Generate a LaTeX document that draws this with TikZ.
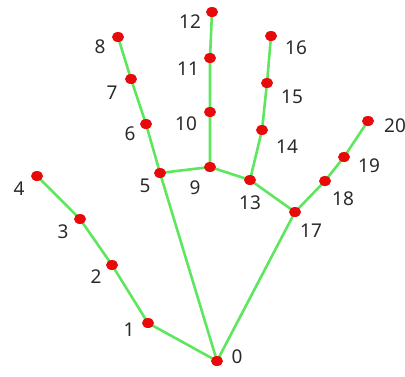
\documentclass[tikz,border=0pt]{standalone}
\usepackage{fontspec}
\setmainfont{Noto Sans}
\usetikzlibrary{shapes.geometric}
\definecolor{bone}{HTML}{5EE65E}
\definecolor{joint}{HTML}{E80A0A}
\definecolor{lbl}{HTML}{2A2A2A}
\tikzset{
  kp/.style={ellipse,fill=joint,inner sep=0pt,minimum width=12pt,minimum height=10pt},
  num/.style={text=lbl,font=\fontsize{19}{19}\selectfont,inner sep=0pt},
  bonel/.style={draw=bone,line width=2.6pt}
}
\begin{document}
\begin{tikzpicture}[x=1pt,y=-1pt]
\useasboundingbox (0,0) rectangle (405,376);
\foreach \n/\x/\y in {0/217/361,1/148/323,2/112/265,3/80/219,4/37/176,
  5/160/173,6/146/124,7/131/79,8/118/37,
  9/210/167,10/210/112,11/210/58,12/212/12,
  13/250/180,14/262/130,15/267/83,16/271/36,
  17/295/212,18/325/181,19/344/157,20/368/121}
  \coordinate (p\n) at (\x,\y);
\draw[bonel] (p0)--(p1)--(p2)--(p3)--(p4);
\draw[bonel] (p0)--(p5)--(p6)--(p7)--(p8);
\draw[bonel] (p5)--(p9)--(p10)--(p11)--(p12);
\draw[bonel] (p9)--(p13)--(p14)--(p15)--(p16);
\draw[bonel] (p13)--(p17);
\draw[bonel] (p0)--(p17)--(p18)--(p19)--(p20);
\foreach \n in {0,...,20} \node[kp] (k\n) at (p\n) {};
\foreach \n/\x/\y in {0/237/357,1/129/330,2/96/277,3/63/232,4/19/189,
  5/145/186,6/130/134,7/112/93,8/100/47,
  9/195/188,10/186/124,11/188/69,12/190/22,
  13/250/203,14/287/147,15/292/97,16/296/48,
  17/311/231,18/343/199,19/369/166,20/395/126}
  \node[num] (t\n) at (\x,\y) {\n};
\end{tikzpicture}
\end{document}
